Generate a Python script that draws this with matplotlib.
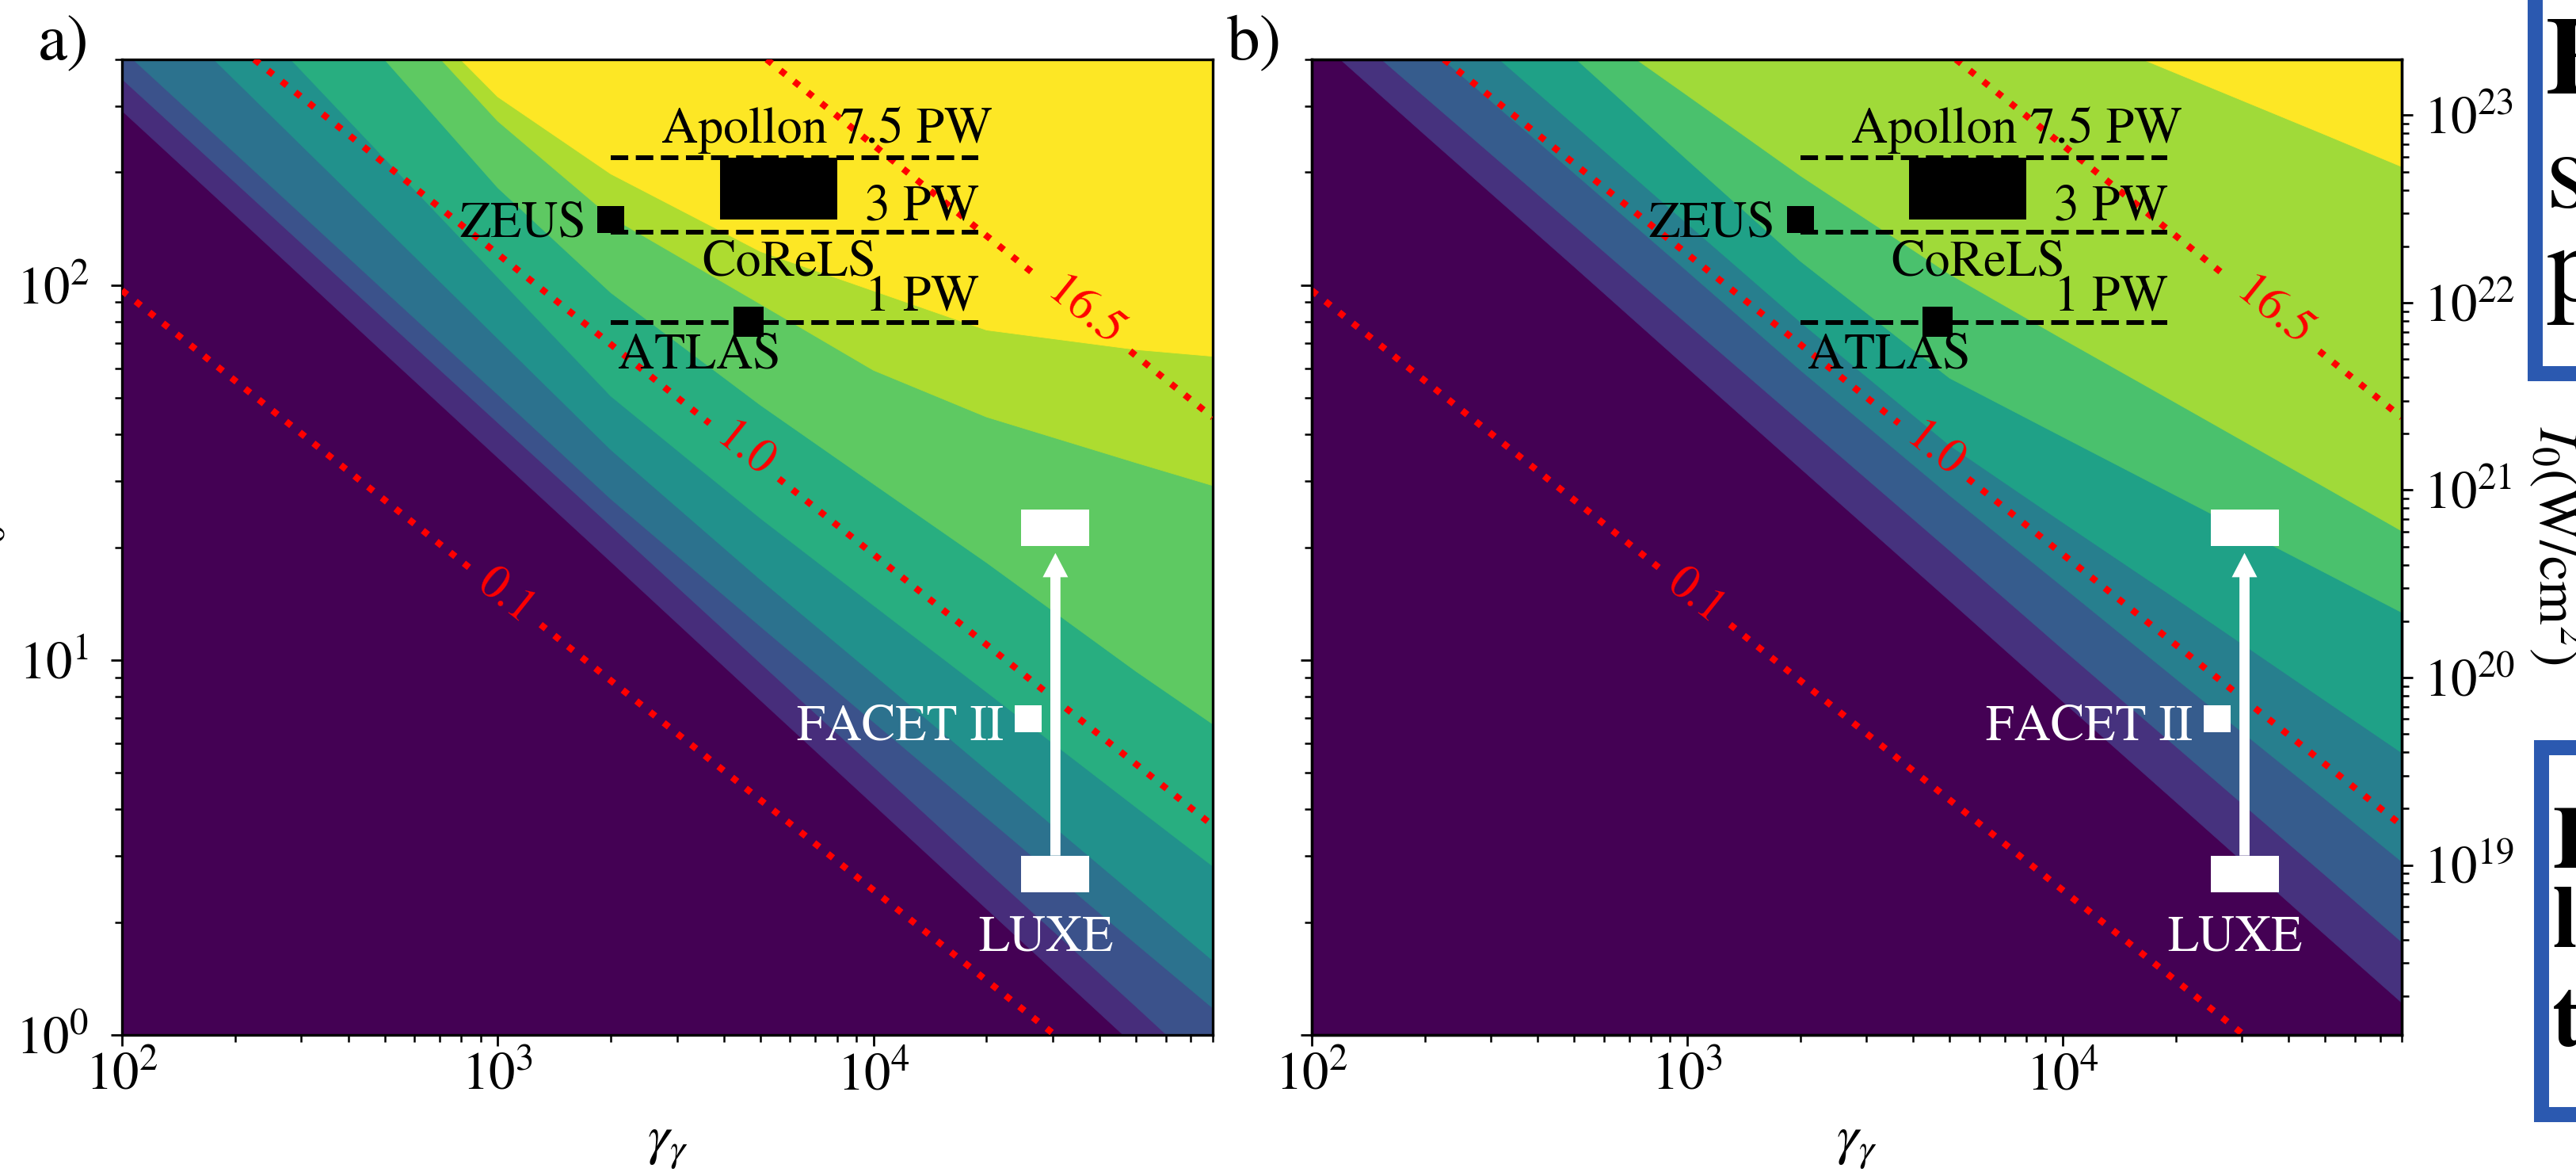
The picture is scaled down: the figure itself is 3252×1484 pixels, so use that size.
import numpy as np
import matplotlib.pyplot as plt
from matplotlib.patches import Polygon, Rectangle
from matplotlib.path import Path

W_PX, H_PX, DPI = 3252, 1484, 100

plt.rcParams.update({
    "font.family": ["STIXGeneral", "DejaVu Serif"],
    "mathtext.fontset": "stix",
    "font.size": 46,
    "axes.linewidth": 2.4,
    "xtick.direction": "out",
    "ytick.direction": "out",
    "xtick.major.size": 10,
    "ytick.major.size": 10,
    "xtick.minor.size": 6.5,
    "ytick.minor.size": 6.5,
    "xtick.major.width": 2.0,
    "ytick.major.width": 2.0,
    "xtick.minor.width": 1.8,
    "ytick.minor.width": 1.8,
    "xtick.labelsize": 48,
    "ytick.labelsize": 48,
})

# ---- axes ranges ----
GAMMA_LIM = (1e2, 8e4)
A0_LIM = (1.0, 400.0)
I0_AT_A0_1 = 1.24e18          # W/cm^2 for a0 = 1

# ---- filled contour edges: a0 of each level boundary at EDGE_GAMMA ----
EDGE_GAMMA = [1e2, 2e2, 5e2, 1e3, 2e3, 5e3, 1e4, 2e4, 5e4, 8e4]

EDGES_A = [
    [292, 154, 65.8, 34.7, 18.3, 7.82, 4.12, 2.17, 0.93, 0.60],
    [355, 188, 81.1, 43.0, 22.8, 9.82, 5.20, 2.75, 1.19, 0.77],
    [426, 225, 96.6, 51.1, 26.9, 12.3, 6.84, 3.80, 1.75, 1.18],
    [698, 352, 143, 72.1, 36.4, 16.4, 9.17, 5.10, 2.35, 1.58],
    [1194, 574, 218, 105, 50.6, 23.9, 14.0, 8.22, 4.05, 2.82],
    [2754, 1202, 400, 182, 95.5, 47.9, 29.5, 18.2, 9.33, 6.75],
    [3365, 1581, 583, 274, 152, 89.1, 59.3, 44.5, 33.6, 29.2],
    [3500, 1800, 640, 318, 198, 123, 96.6, 75.9, 67.3, 64.6],
]

EDGES_B = [
    [468, 252, 112, 60.3, 32.5, 14.4, 7.76, 4.19, 1.85, 1.22],
    [580, 318, 144, 78.9, 43.3, 19.6, 10.7, 5.89, 2.67, 1.77],
    [805, 441, 199, 109, 59.4, 27.5, 15.7, 8.93, 4.26, 2.90],
    [1094, 597, 268, 146, 79.8, 37.4, 23.3, 14.6, 7.80, 5.66],
    [1738, 929, 405, 216, 116, 56.5, 39.4, 27.5, 17.1, 13.4],
    [2000, 1002, 524, 321, 196, 107, 71.9, 48.6, 28.9, 22.1],
    [3281, 2466, 1688, 1268, 952, 652, 490, 368, 252, 207],
]

# ---- dotted contour lines (value, end points, label position) ----
CHI_LABELS = ["0.1", "1.0", "16.5"]
CHI_GAMMA = [(100, 3.04e4), (225, 8e4), (5.2e3, 8e4)]
CHI_A0 = [(96.8, 1.0), (400, 3.62), (400, 44.4)]
CHI_LABEL_GAMMA = [1052, 4529, 3.63e4]
CHI_GAP_PX = [112, 112, 150]

# ---- laser facilities ----
LASER_LINE_GAMMA = (2.0e3, 1.9e4)
LASER_LINE_A0 = [219, 138.6, 79.6]
APOLLON_GAMMA = (3.9e3, 8.0e3)
APOLLON_A0 = (150, 219)
ZEUS = (2.0e3, 150)
ATLAS = (4.65e3, 80)
FACET = (2.58e4, 6.96)
LUXE_GAMMA = 3.05e4
LUXE_A0 = (2.69, 22.5)


def fill_bands(ax, edges, colors):
    ax.set_facecolor(colors[0])
    g0, g1 = EDGE_GAMMA[0], EDGE_GAMMA[-1]
    for row, c in zip(edges, colors[1:]):
        pts = list(zip(EDGE_GAMMA, row))
        pts += [(g1 * 1e3, row[-1]), (g1 * 1e3, 1e8),
                (g0 * 1e-3, 1e8), (g0 * 1e-3, row[0])]
        ax.add_patch(Polygon(pts, closed=True, fc=c, ec=c, lw=0.6, zorder=0.5))


def chi_lines(ax):
    inv = ax.transData.inverted()
    for lab, gg, aa, gl, gap in zip(CHI_LABELS, CHI_GAMMA, CHI_A0,
                                    CHI_LABEL_GAMMA, CHI_GAP_PX):
        lg = np.log10(gg)
        la = np.log10(aa)
        t = (np.log10(gl) - lg[0]) / (lg[1] - lg[0])
        al = 10 ** (la[0] + t * (la[1] - la[0]))
        p0, p1 = ax.transData.transform([(gg[0], aa[0]), (gg[1], aa[1])])
        pl = ax.transData.transform((gl, al))
        d = (p1 - p0) / np.hypot(*(p1 - p0))
        qa = inv.transform(pl - d * gap / 2)
        qb = inv.transform(pl + d * gap / 2)
        kw = dict(color="red", ls=":", lw=6.0, zorder=3)
        ax.plot([gg[0], qa[0]], [aa[0], qa[1]], **kw)
        ax.plot([qb[0], gg[1]], [qb[1], aa[1]], **kw)
        ang = np.degrees(np.arctan2(d[1], d[0]))
        ax.text(gl, al, lab, color="red", fontsize=44, rotation=ang,
                rotation_mode="anchor", ha="center", va="center", zorder=5)


def facilities(ax):
    for a0 in LASER_LINE_A0:
        ax.plot(LASER_LINE_GAMMA, [a0, a0], color="black", ls="--", lw=4.3,
                zorder=3)
    ax.fill_between(APOLLON_GAMMA, APOLLON_A0[0], APOLLON_A0[1],
                    color="black", lw=0, zorder=3.5)
    ax.plot(*ZEUS, "s", color="black", ms=24.5, mew=0, zorder=4)
    ax.plot(*ATLAS, "s", color="black", ms=27.5, mew=0, zorder=4)
    ax.plot(*FACET, "s", color="white", ms=24, mew=0, zorder=4)

    bar = Path([(-1, -0.52), (1, -0.52), (1, 0.52), (-1, 0.52), (-1, -0.52)],
               [Path.MOVETO, Path.LINETO, Path.LINETO, Path.LINETO,
                Path.CLOSEPOLY])
    ax.plot([LUXE_GAMMA] * 2, LUXE_A0, ls="none", marker=bar, ms=62.6,
            color="white", mew=0, zorder=4)
    ax.annotate("", xy=(LUXE_GAMMA, LUXE_A0[1]),
                xytext=(LUXE_GAMMA, LUXE_A0[0]),
                arrowprops=dict(
                    arrowstyle="simple,head_length=22,head_width=23,tail_width=9.2",
                    fc="white", ec="none", lw=0, shrinkA=16.6, shrinkB=22.7,
                    mutation_scale=1),
                zorder=4)

    tk = dict(transform=ax.transAxes, fontsize=46, zorder=5)
    ax.text(0.4946, 0.9147, "Apollon 7.5 PW", ha="left", va="baseline", **tk)
    ax.text(0.6812, 0.8359, "3 PW", ha="left", va="baseline", **tk)
    ax.text(0.5316, 0.7790, "CoReLS", ha="left", va="baseline", **tk)
    ax.text(0.6812, 0.7417, "1 PW", ha="left", va="baseline", **tk)
    ax.text(0.4546, 0.6832, "ATLAS", ha="left", va="baseline", **tk)
    ax.text(0.4256, 0.8188, "ZEUS", ha="right", va="baseline", **tk)
    ax.text(0.8083, 0.3030, "FACET II", ha="right", va="baseline",
            color="white", **tk)
    ax.text(0.8468, 0.0861, "LUXE", ha="center", va="baseline",
            color="white", **tk)


def panel(ax, edges):
    n = len(edges) + 1
    colors = [plt.cm.viridis(i / (n - 1)) for i in range(n)]
    ax.set_xscale("log")
    ax.set_yscale("log")
    ax.set_xlim(*GAMMA_LIM)
    ax.set_ylim(*A0_LIM)
    fill_bands(ax, edges, colors)
    ax.set_xlim(*GAMMA_LIM)
    ax.set_ylim(*A0_LIM)
    chi_lines(ax)
    facilities(ax)
    ax.set_xlim(*GAMMA_LIM)
    ax.set_ylim(*A0_LIM)
    ax.tick_params(axis="x", which="both", pad=6)
    ax.set_xlabel(r"$\gamma_\gamma$", fontsize=50)
    ax.xaxis.set_label_coords(0.5, -0.089)
    ax.xaxis.label.set_va("top")


fig = plt.figure(figsize=(W_PX / DPI, H_PX / DPI), dpi=DPI)


def fig_box(x0, y0, x1, y1):
    return [x0 / W_PX, 1 - y1 / H_PX, (x1 - x0) / W_PX, (y1 - y0) / H_PX]


ax_a = fig.add_axes(fig_box(154, 75, 1531, 1306))
ax_b = fig.add_axes(fig_box(1656, 75, 3032, 1306))

panel(ax_a, EDGES_A)
panel(ax_b, EDGES_B)

ax_a.tick_params(axis="y", which="both", right=False, pad=20)
ax_b.tick_params(axis="y", which="both", left=False, right=False,
                 labelleft=False)

ax_i = ax_b.twinx()
ax_i.set_yscale("log")
ax_i.set_ylim(I0_AT_A0_1 * A0_LIM[0] ** 2, I0_AT_A0_1 * A0_LIM[1] ** 2)
ax_i.tick_params(axis="y", which="both", pad=10)

fig.text(3190 / W_PX, 1 - 688 / H_PX, r"$I_0(\mathrm{W/cm^2})$",
         rotation=270, ha="left", va="center", fontsize=51)
fig.text(12 / W_PX, 1 - 690 / H_PX, r"$a_0$", rotation=90, ha="right",
         va="center", fontsize=48)

fig.text(48 / W_PX, 1 - 75 / H_PX, "a)", fontsize=60, va="baseline")
fig.text(1549 / W_PX, 1 - 75 / H_PX, "b)", fontsize=60, va="baseline")

# slide frames cut by the right edge
blue = "#2b59b0"
fig.add_artist(Rectangle((3199.5 / W_PX, 1 - 471 / H_PX),
                         300 / W_PX, 600 / H_PX, transform=fig.transFigure,
                         fc="white", ec=blue, lw=13.7))
fig.add_artist(Rectangle((3207.5 / W_PX, 1 - 1406 / H_PX),
                         300 / W_PX, (1406 - 942.5) / H_PX,
                         transform=fig.transFigure, fc="white", ec=blue,
                         lw=13.7))
for s, x, y, size, bold in [("F", 3214, 118, 100, True),
                            ("s", 3214, 262, 100, False),
                            ("p", 3214, 380, 100, False),
                            ("F", 3222, 1095, 80, True),
                            ("l", 3222, 1195, 80, True),
                            ("t", 3222, 1320, 80, True)]:
    fig.text(x / W_PX, 1 - y / H_PX, s, fontsize=size, va="baseline",
             weight="bold" if bold else "normal")

fig.savefig("out.png", dpi=DPI)
